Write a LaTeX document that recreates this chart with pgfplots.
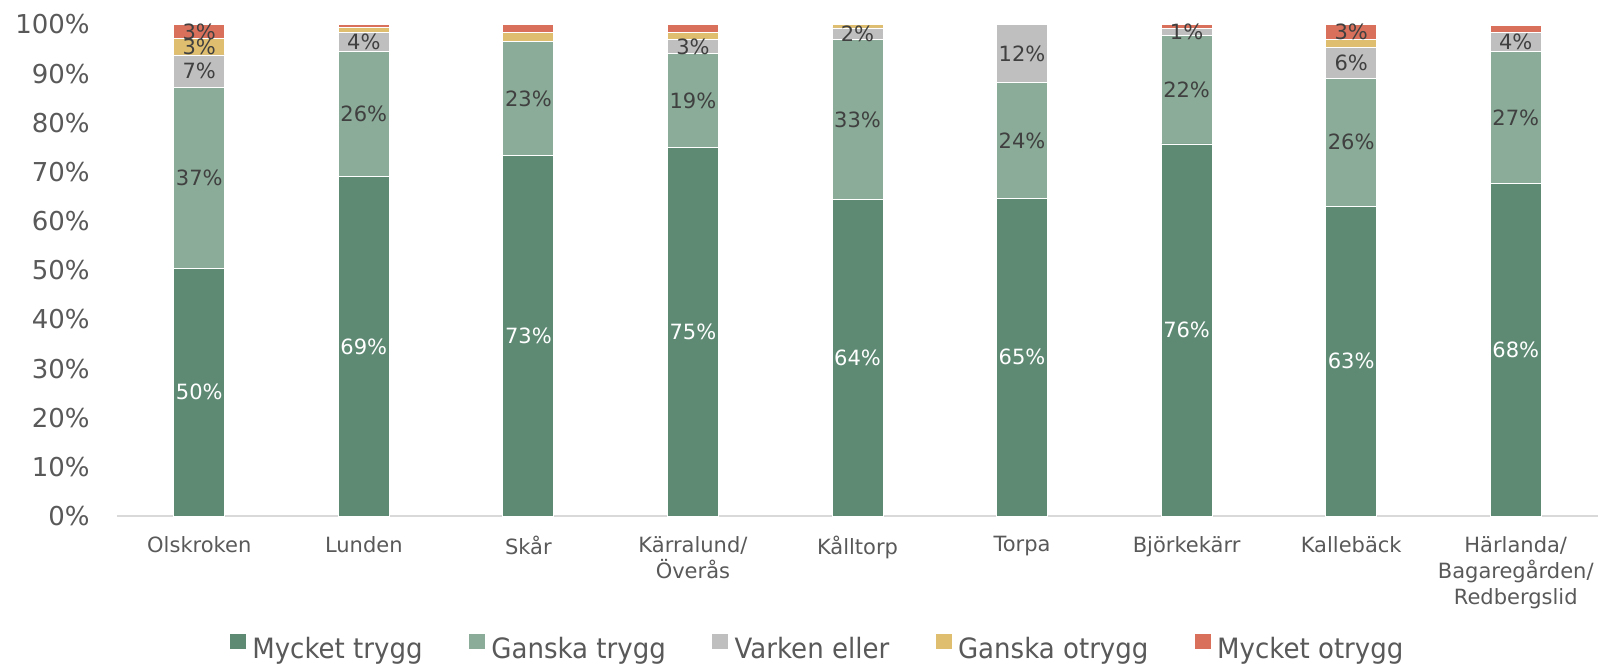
\documentclass[border=0pt]{standalone}
\usepackage{pgfplots}
\pgfplotsset{compat=1.18}
\usepackage{pgfplotstable}
\usepackage{fontspec}
\setmainfont{DejaVu Sans}
\newfontfamily\legfont[FakeStretch=0.93]{DejaVu Sans}
\definecolor{cA}{HTML}{5E8A74}
\definecolor{cB}{HTML}{8AAC98}
\definecolor{cC}{HTML}{BFBFBF}
\definecolor{cD}{HTML}{DFBE6F}
\definecolor{cE}{HTML}{D8705C}
\definecolor{tickGray}{HTML}{595959}
\definecolor{labGray}{HTML}{404040}
\definecolor{lineGray}{HTML}{D9D9D9}

\pgfplotstableread{
x a b c d e la lb lc ld le
0 50.4 36.8 6.6 3.4 2.8 50 37 7 3 3
1 69.0 25.6 3.7 1.1 0.6 69 26 4 -1 -1
2 73.3 23.2 0.0 1.8 1.7 73 23 -1 -1 -1
3 75.0 19.1 2.9 1.4 1.6 75 19 3 -1 -1
4 64.4 32.5 2.4 0.7 0.0 64 33 2 -1 -1
5 64.6 23.6 11.8 0.0 0.0 65 24 12 -1 -1
6 75.7 22.1 1.4 0.0 0.8 76 22 1 -1 -1
7 63.0 26.1 6.2 1.6 3.1 63 26 6 -1 3
8 67.6 27.0 3.8 0.0 1.4 68 27 4 -1 -1
}\datatable

\pgfplotsset{
  lab/.style n args={3}{
    visualization depends on={\thisrow{#2} \as \labval},
    nodes near coords={\pgfmathtruncatemacro\L{\labval}\ifnum\L<0 \else\L\%\fi},
    every node near coord/.append style={anchor=center, inner sep=0pt,
      font=\fontsize{10.5}{12}\selectfont, text=#3},
  },
}

\begin{document}
\begin{tikzpicture}
\path[use as bounding box] (0,0) rectangle (799pt,332.5pt);
\begin{axis}[
  at={(58.5pt,74.5pt)}, anchor=south west,
  scale only axis, width=740.5pt, height=245.75pt,
  ybar stacked, bar width=25.5pt,
  clip=false,
  xmin=-0.5, xmax=8.5, ymin=0, ymax=100,
  xtick={0,...,8},
  xticklabels={Olskroken, Lunden, Skår, {Kärralund/\\Överås}, Kålltorp, Torpa, Björkekärr, Kallebäck, {Härlanda/\\Bagaregården/\\Redbergslid}},
  ytick={0,10,...,100},
  yticklabels={0\%,10\%,20\%,30\%,40\%,50\%,60\%,70\%,80\%,90\%,100\%},
  axis x line*=bottom, axis y line*=left,
  x axis line style={draw=lineGray, line width=0.75pt, -},
  y axis line style={draw=none},
  major tick length=0pt,
  tick style={draw=none},
  yticklabel style={font=\fontsize{13}{15}\selectfont, text=tickGray, inner sep=0pt, xshift=-13.5pt},
  xticklabel style={font=\fontsize{10.5}{13}\selectfont, text=tickGray, inner sep=0pt, yshift=-10pt, align=center},
  legend columns=5,
  legend image code/.code={\fill[#1,draw=none] (0pt,0pt) rectangle (8pt,7.5pt); \path (0pt,-3pt) (11pt,9pt);},
  legend style={at={(0.4723,-0.2641)}, anchor=center, draw=none, fill=none,
    font=\legfont\fontsize{14}{16}\selectfont, text=tickGray,
    /tikz/every even column/.append style={column sep=23pt},
    nodes={inner sep=0pt}},
]
\addplot[fill=cA, draw=white, line width=0.4pt, lab={a}{la}{white}] table[x=x,y=a]{\datatable};
\addplot[fill=cB, draw=white, line width=0.4pt, lab={b}{lb}{labGray}] table[x=x,y=b]{\datatable};
\addplot[fill=cC, draw=white, line width=0.4pt, lab={c}{lc}{labGray}] table[x=x,y=c]{\datatable};
\addplot[fill=cD, draw=white, line width=0.4pt, lab={d}{ld}{labGray}] table[x=x,y=d]{\datatable};
\addplot[fill=cE, draw=white, line width=0.4pt, lab={e}{le}{labGray}] table[x=x,y=e]{\datatable};
\legend{Mycket trygg, Ganska trygg, Varken eller, Ganska otrygg, Mycket otrygg}
\end{axis}
\end{tikzpicture}
\end{document}
